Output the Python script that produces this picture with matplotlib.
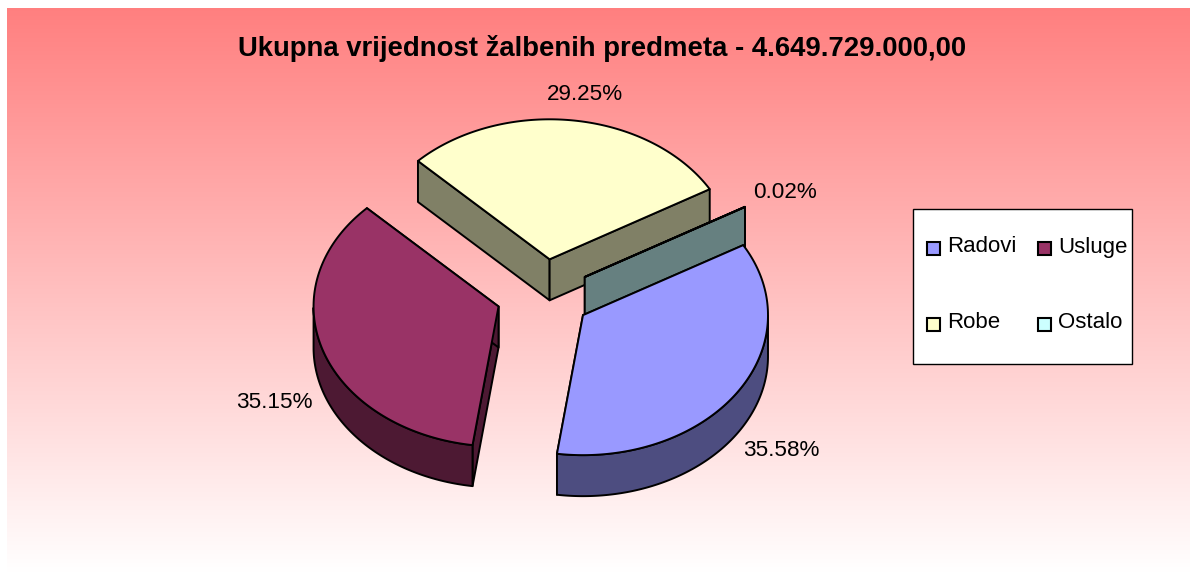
import numpy as np
import matplotlib
matplotlib.use("Agg")
import matplotlib.pyplot as plt
from matplotlib.patches import Polygon, Rectangle

plt.rcParams['font.family'] = ['Liberation Sans', 'DejaVu Sans']

title = "Ukupna vrijednost žalbenih predmeta - 4.649.729.000,00"
categories = ["Radovi", "Usluge", "Robe", "Ostalo"]
shares = [35.58, 35.15, 29.25, 0.02]
top_colors = ["#9999FF", "#993366", "#FFFFCC", "#CCFFFF"]
side_colors = ["#4D4D80", "#4D1933", "#808066", "#668080"]

# pie geometry, in pixels
W, H = 1190, 573
cx, cy = 543.6, 295
rx, ry = 185, 140
depth = 41
explode = 0.257
start_angle = 30.0  # Radovi starts here and goes clockwise


def ell(center, angle):
    a = np.radians(angle)
    return np.column_stack([center[0] + rx * np.cos(a), center[1] - ry * np.sin(a)])


def down(pts):
    return pts + np.array([0, depth])


fig = plt.figure(figsize=(W / 100, H / 100), dpi=100)
ax = fig.add_axes([0, 0, 1, 1])
ax.set_xlim(0, W)
ax.set_ylim(H, 0)
ax.axis('off')

# background gradient
grad = np.linspace(0, 1, 256).reshape(-1, 1)
rgb = np.dstack([np.ones_like(grad), 0.5 + 0.5 * grad, 0.5 + 0.5 * grad])
ax.imshow(rgb, extent=(7, W, H, 8), aspect='auto', zorder=0)
ax.set_xlim(0, W)
ax.set_ylim(H, 0)

# slices
slices = []
a0 = start_angle
for name, share, top, side in zip(categories, shares, top_colors, side_colors):
    a1 = a0 - share * 3.6
    mid = np.radians((a0 + a1) / 2)
    center = (cx + explode * rx * np.cos(mid), cy - explode * ry * np.sin(mid))
    slices.append(dict(name=name, share=share, a0=a0, a1=a1, mid=mid, center=center, top=top, side=side))
    a0 = a1


def draw_slice(s, z):
    c = np.array(s['center'])
    kw = dict(edgecolor='black', linewidth=1.4, joinstyle='round', zorder=z)
    # radial walls
    for ang in (s['a0'], s['a1']):
        p = ell(c, np.array([ang]))[0]
        ax.add_patch(Polygon([c, p, p + [0, depth], c + [0, depth]], facecolor=s['side'], **kw))
    # outer wall, lower half of the ellipse only
    lo, hi = s['a1'], s['a0']
    angs = np.linspace(lo, hi, 200)
    angs = angs[(np.sin(np.radians(angs)) <= 0)]
    if len(angs) > 1:
        arc = ell(c, angs)
        ax.add_patch(Polygon(np.vstack([arc, down(arc)[::-1]]), facecolor=s['side'], **kw))
    # top
    arc = ell(c, np.linspace(lo, hi, 200))
    ax.add_patch(Polygon(np.vstack([[c], arc]), facecolor=s['top'], **kw))


radovi, usluge, robe, ostalo = slices
draw_slice(robe, 2)
draw_slice(ostalo, 3)
draw_slice(radovi, 4)
draw_slice(usluge, 5)

ax.text(602, 49, title, ha='center', va='center', fontsize=19.85, fontweight='bold', color='black', zorder=10)

label_pos = [(781, 450), (274.5, 402), (585, 95), (785, 193)]
for s, (lx, ly) in zip(slices, label_pos):
    ax.text(lx, ly, f"{s['share']:.2f}%", ha='center', va='center', fontsize=16.2, zorder=10)

# legend
ax.add_patch(Rectangle((913, 208.5), 219, 155, facecolor='white', edgecolor='black', linewidth=1, zorder=10))
leg_x = [927, 1038]
leg_y = [248, 324]
for i, s in enumerate(slices):
    x = leg_x[i % 2]
    y = leg_y[i // 2]
    ax.add_patch(Rectangle((x, y - 6.5), 13, 13, facecolor=s['top'], edgecolor='black', linewidth=1.5, zorder=11))
    ax.text(x + 20, y - 1, s['name'], ha='left', va='center', fontsize=16, zorder=11)

fig.savefig("out.png", dpi=100)
